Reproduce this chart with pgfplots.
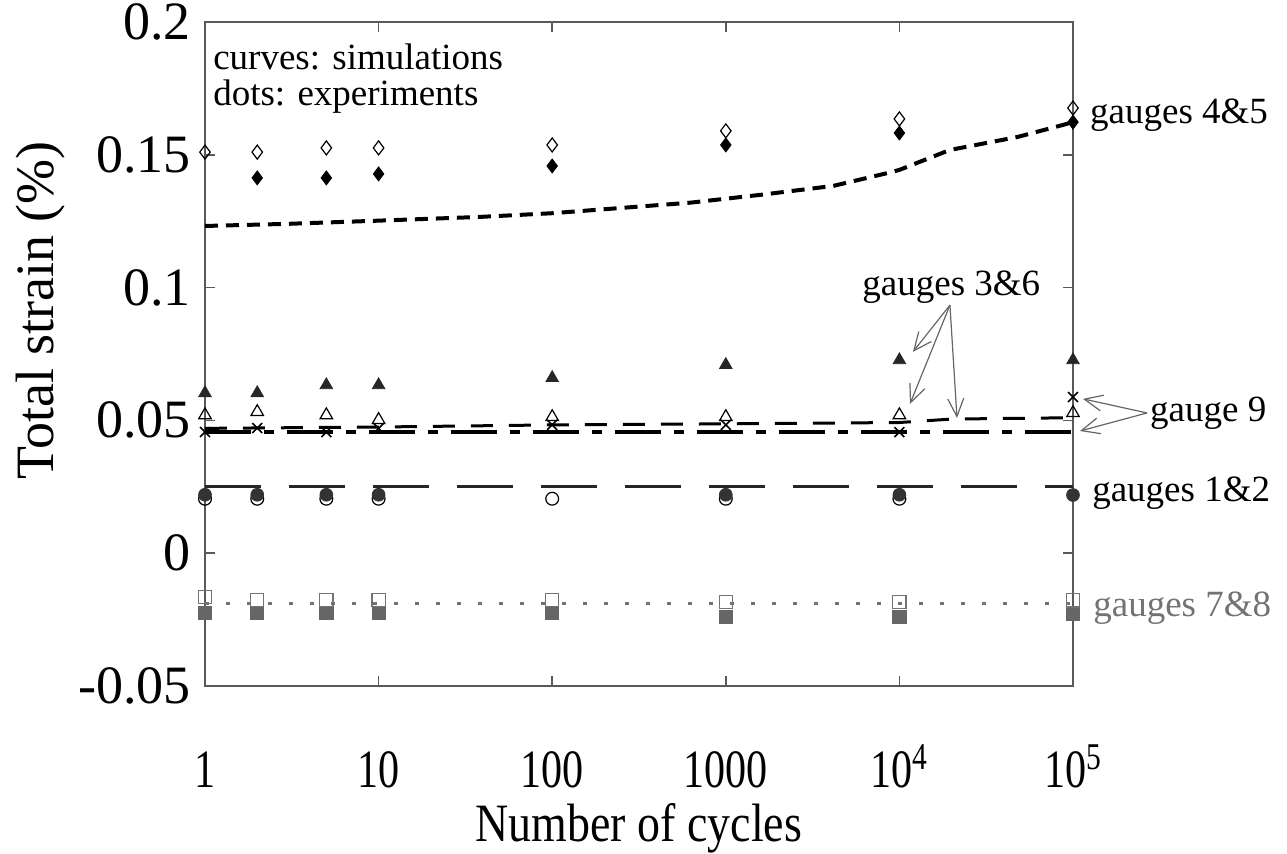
\documentclass[border=0pt]{standalone}
\usepackage{fontspec}
\setmainfont{Liberation Serif}
\usepackage{pgfplots}
\pgfplotsset{compat=1.18}
\usetikzlibrary{arrows.meta}

\newcommand{\bigfont}{\fontsize{27}{30}\selectfont}
\newcommand{\notefont}{\fontsize{18.5}{22}\selectfont}

\begin{document}
\begin{tikzpicture}

\begin{axis}[%
name=main,%
xmode=log,%
xmin=1, xmax=100000,%
ymin=-0.05, ymax=0.2,%
width=434pt, height=332pt,%
scale only axis,%
clip=false,%
axis line style={draw=black!65, line width=0.8pt},%
tick align=inside,%
major tick length=5pt,%
xminorticks=false,%
tick style={draw=black!65, line width=0.8pt},%
xtick={1,10,100,1000,10000,100000},%
xticklabels={\scalebox{0.78}[1]{1},\scalebox{0.78}[1]{10},\scalebox{0.78}[1]{100},\scalebox{0.78}[1]{1000},\scalebox{0.78}[1]{10\textsuperscript{4}},\scalebox{0.78}[1]{10\textsuperscript{5}}},%
ytick={-0.05,0,0.05,0.1,0.15,0.2},%
yticklabels={-0.05,0,0.05,0.1,0.15,0.2},%
tick label style={font=\bigfont},%
xticklabel style={anchor=base, inner sep=0pt, yshift=-51pt},%
yticklabel style={anchor=east, inner sep=0pt, xshift=-7pt},%
xlabel={\scalebox{0.85}[1]{Number of cycles}},%
ylabel={Total strain (\%)},%
label style={font=\bigfont},%
xlabel style={at={(axis description cs:0.5,-0.214)}, anchor=center},%
ylabel style={at={(axis description cs:-0.19,0.566)}, anchor=center},%
]

% simulations
\addplot [black, line width=2pt, dash pattern=on 6.5pt off 4pt] coordinates {
 (1,0.1232) (3,0.124) (10,0.1252) (38,0.1266) (100,0.128) (631,0.132)
 (1622,0.135) (4169,0.1383) (8511,0.1431) (10000,0.1443) (12590,0.1469)
 (19500,0.1518) (47860,0.1567) (87100,0.1612) (100000,0.1623)
};
\addplot [black, line width=1.5pt, dash pattern=on 11pt off 8pt] coordinates {
 (1,0.047) (10,0.0475) (100,0.0483) (1000,0.0487) (10000,0.0492)
 (20000,0.0505) (100000,0.051)
};
\addplot [black, line width=1.7pt, dash pattern=on 23pt off 6.5pt on 5pt off 6.5pt] coordinates {
 (1,0.0456) (100000,0.0456)
};
\addplot [black!85, line width=1.4pt, dash pattern=on 28pt off 14pt] coordinates {
 (1,0.0252) (100000,0.0252)
};
\addplot [black!55, line width=1.6pt, dash pattern=on 2pt off 8.5pt] coordinates {
 (1,-0.0188) (100000,-0.0188)
};

% experiments
\addplot [only marks, mark=diamond, mark size=3.5pt, mark options={draw=black, fill=white, line width=0.6pt}] coordinates {
 (1,0.151) (2,0.151) (5,0.1526) (10,0.1526) (100,0.1537) (1000,0.159) (10000,0.1635) (100000,0.1676)
};
\addplot [only marks, mark=diamond*, mark size=3.5pt, mark options={draw=black, fill=black}] coordinates {
 (2,0.1413) (5,0.1413) (10,0.1428) (100,0.1458) (1000,0.1537) (10000,0.1582) (100000,0.1623)
};
\addplot [only marks, mark=triangle*, mark size=3.6pt, mark options={draw=black!85, fill=black!85}] coordinates {
 (1,0.0603) (2,0.0603) (5,0.0633) (10,0.0633) (100,0.066) (1000,0.0709) (10000,0.0727) (100000,0.0727)
};
\addplot [only marks, mark=triangle, mark size=3.6pt, mark options={draw=black, fill=white, line width=0.6pt}] coordinates {
 (1,0.052) (2,0.0532) (5,0.052) (10,0.0502) (100,0.0513) (1000,0.0513) (10000,0.052) (100000,0.0528)
};
\addplot [only marks, mark=x, mark size=3.5pt, mark options={draw=black, line width=0.8pt}] coordinates {
 (1,0.0456) (2,0.0471) (5,0.0456) (10,0.047) (100,0.0483) (1000,0.0483) (10000,0.0456) (100000,0.0588)
};
\addplot [only marks, mark=o, mark size=3.2pt, mark options={draw=black, fill=white, line width=0.6pt}] coordinates {
 (1,0.0205) (2,0.0205) (5,0.0205) (10,0.0205) (100,0.0205) (1000,0.0205) (10000,0.0205)
};
\addplot [only marks, mark=*, mark size=3.2pt, mark options={draw=black!80, fill=black!80}] coordinates {
 (1,0.022) (2,0.022) (5,0.022) (10,0.022) (1000,0.022) (10000,0.022) (100000,0.0219)
};
\addplot [only marks, mark=square*, mark size=3.3pt, mark options={draw=black!60, fill=black!60}] coordinates {
 (1,-0.0225) (2,-0.0225) (5,-0.0225) (10,-0.0225) (100,-0.0225) (1000,-0.024) (10000,-0.024) (100000,-0.023)
};
\addplot [only marks, mark=square, mark size=3.3pt, mark options={draw=black!55, fill=white, line width=0.6pt}] coordinates {
 (1,-0.0165) (2,-0.0176) (5,-0.0176) (10,-0.0176) (100,-0.0176) (1000,-0.0184) (10000,-0.0184) (100000,-0.0178)
};

% notes
\node [anchor=west, inner sep=0pt, font=\notefont] at (axis cs:1.11,0.1868) {curves: simulations};
\node [anchor=west, inner sep=0pt, font=\notefont] at (axis cs:1.11,0.1718) {dots: experiments};
\node [anchor=west, inner sep=0pt, font=\notefont] at (axis cs:125000,0.165) {gauges 4\&5};
\node [anchor=west, inner sep=0pt, font=\notefont, fill=white] at (axis cs:6095,0.1002) {gauges 3\&6};
\node [anchor=west, inner sep=0pt, font=\notefont] at (axis cs:277000,0.0528) {gauge 9};
\node [anchor=west, inner sep=0pt, font=\notefont] at (axis cs:128500,0.0227) {gauges 1\&2};
\node [anchor=west, inner sep=0pt, font=\notefont, text=black!55] at (axis cs:130300,-0.0206) {gauges 7\&8};

\draw [black!60, line width=0.6pt, -{Straight Barb[length=9pt,width=8pt]}] (axis cs:19550,0.0934) -- (axis cs:11970,0.0758);
\draw [black!60, line width=0.6pt, -{Straight Barb[length=9pt,width=8pt]}] (axis cs:19550,0.0934) -- (axis cs:11510,0.0562);
\draw [black!60, line width=0.6pt, -{Straight Barb[length=9pt,width=8pt]}] (axis cs:19550,0.0934) -- (axis cs:21470,0.0509);
\draw [black!60, line width=0.6pt, -{Straight Barb[length=9pt,width=8pt]}] (axis cs:267000,0.0528) -- (axis cs:114200,0.0581);
\draw [black!60, line width=0.6pt, -{Straight Barb[length=9pt,width=8pt]}] (axis cs:267000,0.0528) -- (axis cs:109700,0.046);

\end{axis}

\path (main.south west) ++(-102.5pt,-84pt) coordinate (bba);
\path (main.north east) ++(107pt,11pt) coordinate (bbb);
\pgfresetboundingbox
\path (bba) rectangle (bbb);

\end{tikzpicture}
\end{document}
